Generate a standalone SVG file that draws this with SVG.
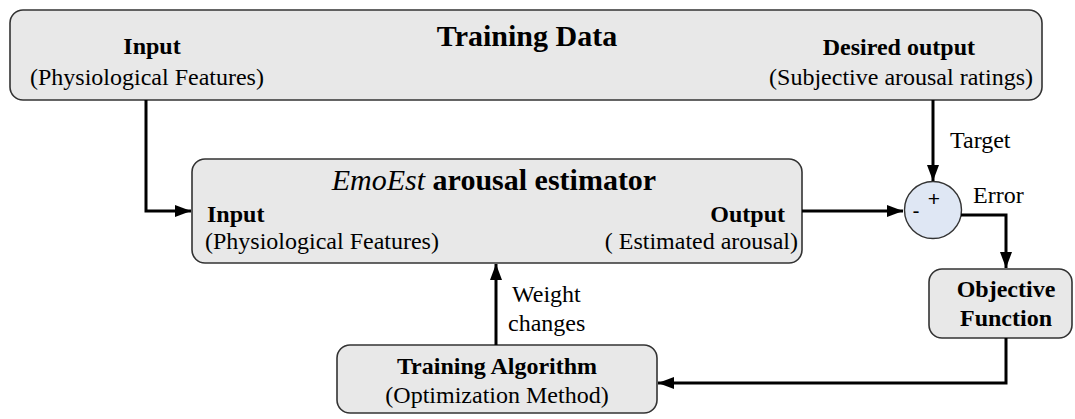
<svg xmlns="http://www.w3.org/2000/svg" width="1075" height="419" viewBox="0 0 1075 419">
  <style>
    .box { fill: #e8e8e8; stroke: #333333; stroke-width: 1.6; }
    .sum { fill: #dfe7f4; stroke: #333333; stroke-width: 1.4; }
    .link { fill: none; stroke: #000000; stroke-width: 3; marker-end: url(#head); }
    text { font-family: "Liberation Serif", "Times New Roman", serif; font-size: 24px; fill: #000000; }
    .b { font-weight: bold; }
    .title { font-size: 30px; font-weight: bold; }
    .mid { text-anchor: middle; }
    .end { text-anchor: end; }
    .sign { font-family: "Liberation Sans", Arial, sans-serif; font-size: 21px; }
  </style>
  <defs>
    <marker id="head" viewBox="0 0 16 12" refX="16" refY="6" markerWidth="16" markerHeight="12" markerUnits="userSpaceOnUse" orient="auto">
      <path d="M0,0 L16,6 L0,12 z" fill="#000000"/>
    </marker>
  </defs>

  <!-- training data source -->
  <g id="training-data">
    <rect class="box" x="10" y="10" width="1032" height="90" rx="13"/>
    <text class="title mid" x="527" y="46">Training Data</text>
    <text class="b mid" x="152" y="54">Input</text>
    <text x="30" y="85">(Physiological Features)</text>
    <text class="b end" x="975" y="55">Desired output</text>
    <text class="end" x="1033" y="85">(Subjective arousal ratings)</text>
  </g>

  <!-- estimator -->
  <g id="estimator">
    <rect class="box" x="192" y="159" width="610" height="104" rx="13"/>
    <text class="title mid" x="494" y="190"><tspan font-style="italic" font-weight="normal">EmoEst</tspan> arousal estimator</text>
    <text class="b" x="207" y="222">Input</text>
    <text x="205" y="249">(Physiological Features)</text>
    <text class="b end" x="785" y="222">Output</text>
    <text class="end" x="798" y="249">( Estimated arousal)</text>
  </g>

  <!-- summing junction -->
  <g id="sum">
    <circle class="sum" cx="933" cy="210" r="28.5"/>
    <text class="sign mid" x="934" y="206">+</text>
    <text class="sign mid" x="916" y="218">-</text>
  </g>

  <!-- objective function -->
  <g id="objective">
    <rect class="box" x="929" y="269" width="143" height="69" rx="13"/>
    <text class="b mid" x="1006" y="297">Objective</text>
    <text class="b mid" x="1006" y="326">Function</text>
  </g>

  <!-- training algorithm -->
  <g id="algorithm">
    <rect class="box" x="337" y="345" width="320" height="68" rx="13"/>
    <text class="b mid" x="497" y="374">Training Algorithm</text>
    <text class="mid" x="497" y="403">(Optimization Method)</text>
  </g>

  <!-- connectors -->
  <g id="connectors">
    <path class="link" d="M146,100 V211 H191"/>
    <path class="link" d="M802,211 H903"/>
    <path class="link" d="M933,100 V181"/>
    <path class="link" d="M961,215 H1006 V268"/>
    <path class="link" d="M1006,338 V383 H658"/>
    <path class="link" d="M496,345 V264"/>
    <text x="950" y="148">Target</text>
    <text x="973" y="203">Error</text>
    <text x="512" y="302">Weight</text>
    <text x="508" y="331">changes</text>
  </g>
</svg>
